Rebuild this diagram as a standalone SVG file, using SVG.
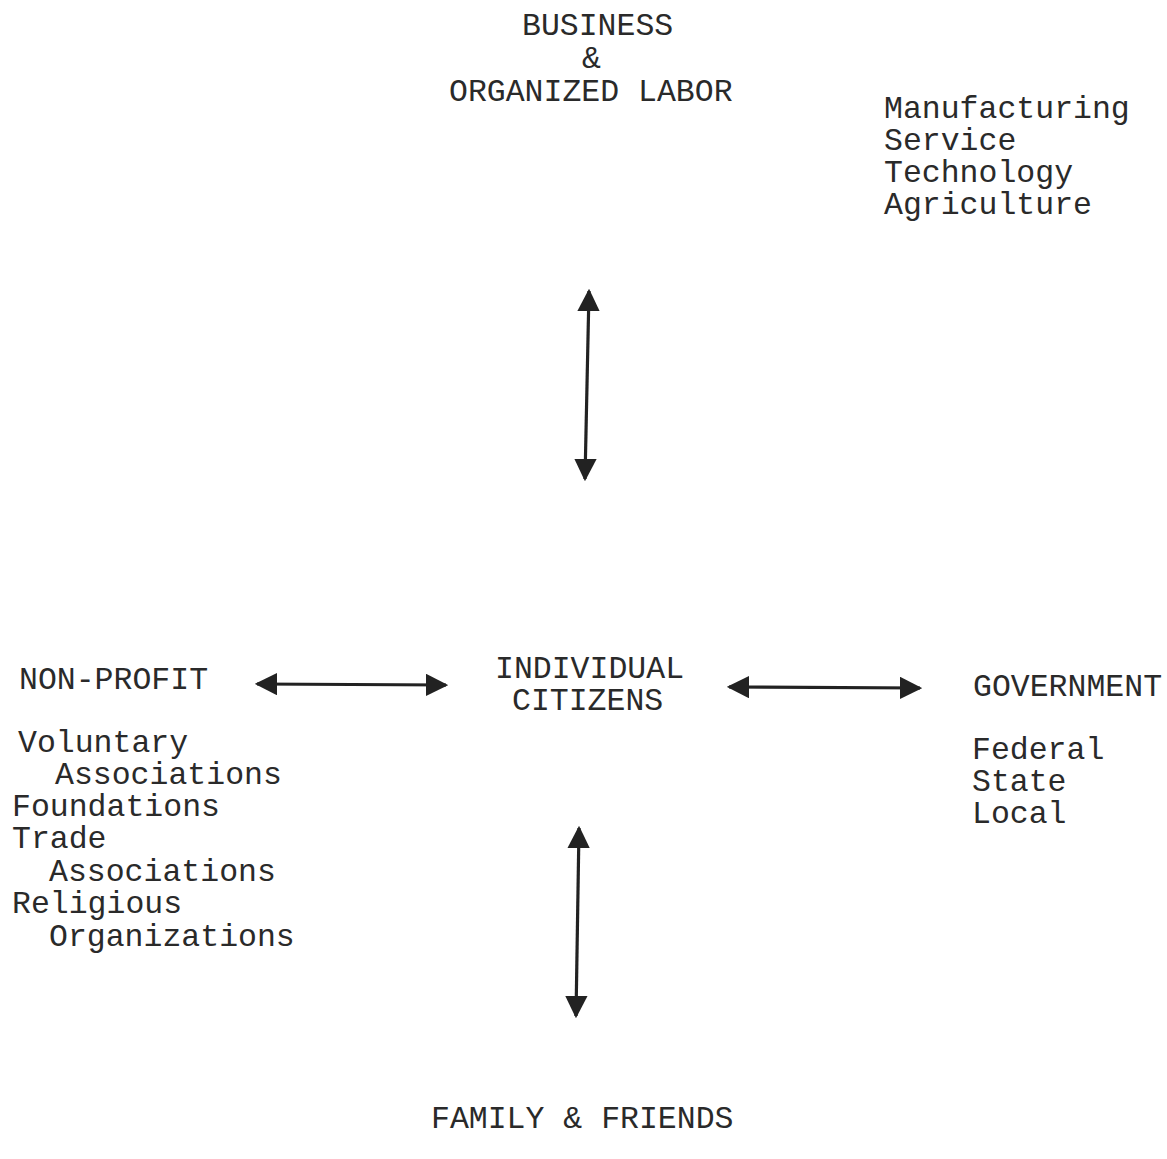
<svg xmlns="http://www.w3.org/2000/svg" width="1167" height="1159" viewBox="0 0 1167 1159">
<style>
text{font-family:"Liberation Mono","Courier New",monospace;font-size:31.5px;fill:#2a2a2a}
.c line{stroke:#222;stroke-width:3.2;fill:none}
</style>
<defs>
<marker id="ah" viewBox="0 0 10 10" refX="9" refY="5" markerWidth="7" markerHeight="7" markerUnits="strokeWidth" orient="auto-start-reverse">
<path d="M0,0 L10,5 L0,10 Z" fill="#222"/>
</marker>
</defs>
<rect width="1167" height="1159" fill="#fff"/>
<g id="business">
<text x="522" y="35">BUSINESS</text>
<text x="582" y="68">&amp;</text>
<text x="449" y="101">ORGANIZED LABOR</text>
</g>
<g id="business-list">
<text x="884" y="118">Manufacturing</text>
<text x="884" y="150">Service</text>
<text x="884" y="182">Technology</text>
<text x="884" y="214">Agriculture</text>
</g>
<g id="nonprofit">
<text x="19" y="689">NON-PROFIT</text>
<text x="18" y="752">Voluntary</text>
<text x="55" y="784">Associations</text>
<text x="12" y="816">Foundations</text>
<text x="12" y="848">Trade</text>
<text x="49" y="881">Associations</text>
<text x="12" y="913">Religious</text>
<text x="49" y="946">Organizations</text>
</g>
<g id="citizens">
<text x="495" y="678">INDIVIDUAL</text>
<text x="512" y="710">CITIZENS</text>
</g>
<g id="government">
<text x="973" y="696">GOVERNMENT</text>
<text x="972" y="759">Federal</text>
<text x="972" y="791">State</text>
<text x="972" y="823">Local</text>
</g>
<g id="family">
<text x="431" y="1128">FAMILY &amp; FRIENDS</text>
</g>
<g class="c" id="connectors">
<line x1="589" y1="291" x2="585" y2="479" marker-start="url(#ah)" marker-end="url(#ah)"/>
<line x1="257" y1="684" x2="446" y2="685" marker-start="url(#ah)" marker-end="url(#ah)"/>
<line x1="729" y1="687" x2="920" y2="688" marker-start="url(#ah)" marker-end="url(#ah)"/>
<line x1="579" y1="828" x2="576" y2="1016" marker-start="url(#ah)" marker-end="url(#ah)"/>
</g>
</svg>
